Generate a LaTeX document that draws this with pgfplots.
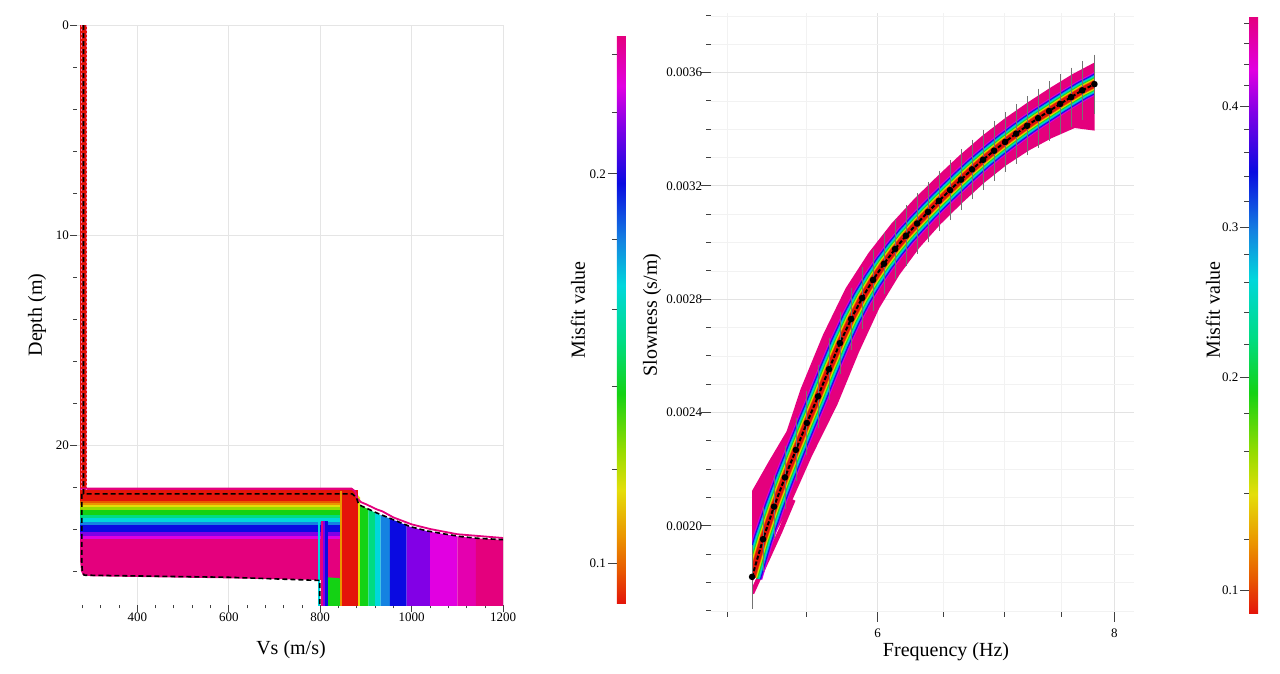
\documentclass[border=0pt]{standalone}
\usepackage{fontspec}
\setmainfont{Liberation Serif}
\usepackage{pgfplots}
\usepackage{pgfplotstable}
\pgfplotsset{compat=1.18}

\definecolor{c0}{RGB}{228,20,10}
\definecolor{c1}{RGB}{232,90,0}
\definecolor{c2}{RGB}{235,150,0}
\definecolor{c3}{RGB}{228,222,10}
\definecolor{c4}{RGB}{150,220,0}
\definecolor{c5}{RGB}{20,210,20}
\definecolor{c6}{RGB}{0,220,130}
\definecolor{c7}{RGB}{0,215,220}
\definecolor{c8}{RGB}{20,130,225}
\definecolor{c9}{RGB}{10,10,225}
\definecolor{c10}{RGB}{130,0,230}
\definecolor{c11}{RGB}{225,0,225}
\definecolor{c11b}{RGB}{228,0,175}
\definecolor{c12}{RGB}{228,0,125}

\pgfplotsset{
  colormap={misfit}{rgb255(0pt)=(228,20,10) rgb255(6pt)=(232,90,0) rgb255(12pt)=(235,150,0) rgb255(20pt)=(228,222,10) rgb255(27pt)=(150,220,0) rgb255(37pt)=(20,210,20) rgb255(46pt)=(0,220,130) rgb255(56pt)=(0,215,220) rgb255(64pt)=(20,130,225) rgb255(74pt)=(10,10,225) rgb255(84pt)=(130,0,230) rgb255(91pt)=(225,0,225) rgb255(100pt)=(228,0,125)},
  /pgf/number format/assume math mode=true,
  tick label style={font=\fontsize{6.5}{7.5}\selectfont},
  tick style={black!75, line width=0.4pt},
  colorbar shift/.style={xshift=0pt},
}
\newcommand{\lab}{\fontsize{10}{12}\selectfont}

% dispersion curve: frequency (Hz), slowness (s/m), error
\pgfplotstableread{
f s e
5.150 0.001820 0.000095
5.219 0.001953 0.000095
5.289 0.002068 0.000094
5.360 0.002171 0.000094
5.432 0.002268 0.000093
5.505 0.002363 0.000093
5.580 0.002457 0.000092
5.655 0.002553 0.000092
5.731 0.002645 0.000091
5.809 0.002730 0.000091
5.887 0.002804 0.000090
5.966 0.002868 0.000090
6.046 0.002925 0.000090
6.128 0.002977 0.000089
6.210 0.003024 0.000089
6.294 0.003067 0.000089
6.379 0.003108 0.000088
6.464 0.003147 0.000088
6.551 0.003185 0.000088
6.640 0.003222 0.000088
6.729 0.003258 0.000087
6.820 0.003292 0.000087
6.912 0.003324 0.000087
7.005 0.003355 0.000087
7.100 0.003384 0.000087
7.195 0.003412 0.000086
7.292 0.003439 0.000086
7.391 0.003464 0.000086
7.490 0.003489 0.000086
7.591 0.003513 0.000086
7.694 0.003537 0.000086
7.809 0.003559 0.000086
}\disp

% centre line of the family of computed curves
\pgfplotstableread{
f s
5.150 0.001820
5.219 0.001953
5.289 0.002068
5.360 0.002171
5.432 0.002268
5.505 0.002363
5.580 0.002457
5.655 0.002553
5.731 0.002645
5.809 0.002730
5.887 0.002804
5.966 0.002868
6.046 0.002925
6.128 0.002977
6.210 0.003024
6.294 0.003067
6.379 0.003108
6.464 0.003147
6.551 0.003185
6.640 0.003222
6.729 0.003258
6.820 0.003292
6.912 0.003324
7.005 0.003355
7.100 0.003384
7.195 0.003412
7.292 0.003439
7.391 0.003464
7.490 0.003489
7.591 0.003513
7.694 0.003537
7.809 0.003559
7.870 0.003572
}\family

\begin{document}
\begin{tikzpicture}
\useasboundingbox (0,0) rectangle (640pt,337pt);

% ================= LEFT: Vs profiles =================
\begin{axis}[
  at={(38.45pt,34.5pt)}, anchor=south west, scale only axis,
  width=213.15pt, height=290pt,
  xmin=268, xmax=1200, ymin=0, ymax=27.62, y dir=reverse,
  axis x line*=bottom, axis y line*=left, axis line style={draw=none},
  xtick={400,600,800,1000,1200}, xticklabels={400,600,800,1000,1200},
  minor xtick={280,320,360,440,480,520,560,640,680,720,760,840,880,920,960,1040,1080,1120,1160},
  ytick={0,10,20}, yticklabels={0,10,20},
  minor ytick={2,4,6,8,12,14,16,18,22,24,26},
  yticklabel style={xshift=3pt},
  xticklabel style={yshift=3pt},
  tick align=outside, major tick length=3.5pt, minor tick length=1.7pt,
  grid=major, major grid style={gray!20, line width=0.4pt},
  colormap name=misfit, point meta min=0.43381, point meta max=0.61309,
  colorbar,
  colorbar style={
    at={(parent axis.north east)}, anchor=north west, xshift=56.85pt, yshift=-5pt,
    scale only axis, width=4.5pt, height=284.5pt,
    ytick={0.44668,0.56933}, yticklabels={0.1,0.2},
    minor ytick={0.47612,0.50251,0.52656,0.54872,0.58864,0.60684},
    ytick pos=left, yticklabel pos=left,
    yticklabel style={xshift=2.5pt},
    tick align=outside, major tick length=4.5pt, minor tick length=2.5pt,
    axis line style={draw=none},
  },
]
% first layer, all models
\addplot[draw=none, fill=c0] coordinates {(275,0) (290,0) (290,22.15) (275,22.15)} -- cycle;
% background of the interface band (worst models)
\addplot[draw=none, fill=c12] coordinates {(275,22.05) (870,22.05) (870,26.45) (600,26.35) (300,26.25) (281,26.2) (277,26.0) (275,25.5)} -- cycle;
% interface depth bands, worst to best
\addplot[draw=none, fill=c11] coordinates {(275,24.32) (845.5,24.32) (845.5,24.48) (275,24.48)} -- cycle;
\addplot[draw=none, fill=c10] coordinates {(275,24.12) (845.5,24.12) (845.5,24.32) (275,24.32)} -- cycle;
\addplot[draw=none, fill=c9] coordinates {(275,23.80) (845.5,23.80) (845.5,24.12) (275,24.12)} -- cycle;
\addplot[draw=none, fill=c8] coordinates {(275,23.65) (845.5,23.65) (845.5,23.80) (275,23.80)} -- cycle;
\addplot[draw=none, fill=c7] coordinates {(275,23.50) (845.5,23.50) (845.5,23.65) (275,23.65)} -- cycle;
\addplot[draw=none, fill=c6] coordinates {(275,23.35) (845.5,23.35) (845.5,23.50) (275,23.50)} -- cycle;
\addplot[draw=none, fill=c5] coordinates {(275,23.08) (845.5,23.08) (845.5,23.35) (275,23.35)} -- cycle;
\addplot[draw=none, fill=c4] coordinates {(275,22.97) (845.5,22.97) (845.5,23.08) (275,23.08)} -- cycle;
\addplot[draw=none, fill=c3] coordinates {(275,22.85) (845.5,22.85) (845.5,22.97) (275,22.97)} -- cycle;
\addplot[draw=none, fill=c2] coordinates {(275,22.75) (845.5,22.75) (845.5,22.85) (275,22.85)} -- cycle;
\addplot[draw=none, fill=c1] coordinates {(275,22.65) (845.5,22.65) (845.5,22.75) (275,22.75)} -- cycle;
\addplot[draw=none, fill=c0] coordinates {(275,22.15) (847.5,22.15) (847.5,22.65) (275,22.65)} -- cycle;
% half-space velocities
\addplot[draw=none, fill=c7] coordinates {(796,23.6) (800,23.6) (800,27.7) (796,27.7)} -- cycle;
\addplot[draw=none, fill=c12] coordinates {(801,23.6) (806,23.6) (806,27.7) (801,27.7)} -- cycle;
\addplot[draw=none, fill=c10] coordinates {(806,23.6) (810,23.6) (810,27.7) (806,27.7)} -- cycle;
\addplot[draw=none, fill=c9] coordinates {(810,23.6) (817,23.6) (817,27.7) (810,27.7)} -- cycle;
\addplot[draw=none, fill=c5] coordinates {(817,26.3) (843,26.35) (843,27.7) (817,27.7)} -- cycle;
\addplot[draw=none, fill=c2] coordinates {(843,22.2) (847.5,22.2) (847.5,27.7) (843,27.7)} -- cycle;
\addplot[draw=none, fill=c0] coordinates {(847.5,22.15) (883,22.15) (883,27.7) (847.5,27.7)} -- cycle;
\addplot[draw=none, fill=c3] coordinates {(883,22.4) (887,22.5) (887,27.7) (883,27.7)} -- cycle;
\addplot[draw=none, fill=c5] coordinates {(887,22.86) (905,23.06) (905,27.7) (887,27.7)} -- cycle;
\addplot[draw=none, fill=c6] coordinates {(905,23.06) (920,23.22) (920,27.7) (905,27.7)} -- cycle;
\addplot[draw=none, fill=c7] coordinates {(920,23.22) (932,23.33) (932,27.7) (920,27.7)} -- cycle;
\addplot[draw=none, fill=c8] coordinates {(932,23.33) (952,23.50) (952,27.7) (932,27.7)} -- cycle;
\addplot[draw=none, fill=c9] coordinates {(952,23.50) (960,23.57) (989,23.83) (989,27.7) (952,27.7)} -- cycle;
\addplot[draw=none, fill=c10] coordinates {(989,23.83) (997,23.90) (1033,24.10) (1040,24.13) (1040,27.7) (989,27.7)} -- cycle;
\addplot[draw=none, fill=c11] coordinates {(1040,24.13) (1070,24.24) (1100,24.35) (1100,27.7) (1040,27.7)} -- cycle;
\addplot[draw=none, fill=c11b] coordinates {(1100,24.35) (1106,24.37) (1140,24.44) (1140,27.7) (1100,27.7)} -- cycle;
\addplot[draw=none, fill=c12] coordinates {(1140,24.44) (1200,24.52) (1200,27.7) (1140,27.7)} -- cycle;
% outlines
\addplot[c12, line width=0.9pt] coordinates {(276,22.07) (868,22.07) (876,22.2) (881,22.55) (889,22.72) (900,22.82) (925,23.08) (935,23.15) (960,23.45) (1000,23.78) (1040,24.0) (1100,24.25) (1200,24.43)};
\addplot[c12!55!white, line width=0.5pt, dash pattern=on 1pt off 1pt] coordinates {(277,0) (277,22.1)};
\addplot[c12!55!white, line width=0.5pt, dash pattern=on 1pt off 1pt] coordinates {(288,0) (288,22.1)};
\addplot[black, line width=0.8pt, dash pattern=on 2.5pt off 1.5pt] coordinates {(282.5,0) (282.5,22.33) (870,22.33) (879,22.5) (884,22.82) (890,22.9) (923,23.23) (960,23.56) (997,23.89) (1033,24.09) (1070,24.23) (1106,24.36) (1143,24.44) (1200,24.51)};
\addplot[black, line width=0.8pt, dash pattern=on 2.5pt off 1.5pt] coordinates {(278.5,22.33) (278.5,25.6) (280,26.05) (284,26.2) (600,26.3) (799,26.45) (799,27.62)};
\end{axis}

% ================= RIGHT: dispersion =================
% frame, grid and ticks
\begin{axis}[
  at={(355.55pt,31pt)}, anchor=south west, scale only axis,
  width=211.3pt, height=299.5pt,
  xmode=log, xmin=4.9, xmax=8.19, ymin=0.001696, ymax=0.00381,
  axis x line*=bottom, axis y line*=left, axis line style={draw=none},
  xtick={6,8}, xticklabels={6,8}, minor xtick={5,5.5,6.5,7,7.5},
  ytick={0.0020,0.0024,0.0028,0.0032,0.0036},
  minor ytick={0.0017,0.0018,0.0019,0.0021,0.0022,0.0023,0.0025,0.0026,0.0027,0.0029,0.0030,0.0031,0.0033,0.0034,0.0035,0.0037,0.0038},
  scaled y ticks=false,
  yticklabel style={/pgf/number format/.cd, fixed, fixed zerofill, precision=4, /tikz/.cd, xshift=4pt},
  tick align=outside, major tick length=5pt, minor tick length=2.5pt,
  grid=both, major grid style={gray!22, line width=0.4pt}, minor grid style={gray!10, line width=0.3pt},
  colormap name=misfit, point meta min=0.43305, point meta max=0.77795,
  colorbar,
  colorbar style={
    at={(parent axis.north east)}, anchor=north west, xshift=57.65pt, yshift=-1.5pt,
    scale only axis, width=4.5pt, height=298.85pt,
    ytick={0.44668,0.56933,0.65613,0.72566}, yticklabels={0.1,0.2,0.3,0.4},
    minor ytick={0.47612,0.50251,0.52656,0.54872,0.58864,0.60684,0.62408,0.64048,0.67112,0.68551,0.69937,0.71273,0.73815,0.75027,0.76203,0.77347},
    ytick pos=left, yticklabel pos=left,
    yticklabel style={xshift=2.7pt},
    tick align=outside, major tick length=4.5pt, minor tick length=2.5pt,
    axis line style={draw=none},
  },
]
\end{axis}

% family of computed curves, clipped to the data frequency range
\begin{axis}[
  at={(376.05pt,31pt)}, anchor=south west, scale only axis,
  width=171.2pt, height=299.5pt,
  xmode=log, xmin=5.15, xmax=7.81, ymin=0.001696, ymax=0.00381,
  hide axis,
]
\addplot[draw=none, fill=c12] coordinates {
(5.150,0.002124) (5.257,0.002229) (5.371,0.002334) (5.463,0.002483) (5.613,0.002674)
(5.770,0.002838) (5.933,0.002963) (6.101,0.003067) (6.274,0.003155) (6.447,0.003232)
(6.626,0.003307) (6.811,0.003376) (7.003,0.003438) (7.199,0.003494) (7.400,0.003546)
(7.607,0.003595) (7.809,0.003635) (7.864,0.003645)
(7.864,0.003395) (7.809,0.003395) (7.624,0.003404) (7.412,0.003368) (7.208,0.003324)
(7.013,0.003272) (6.827,0.003210) (6.650,0.003140) (6.477,0.003065) (6.315,0.002983)
(6.162,0.002887) (6.012,0.002769) (5.865,0.002613) (5.713,0.002428) (5.539,0.002247)
(5.376,0.002052) (5.268,0.001945) (5.150,0.001799)} -- cycle;
\addplot[c12, line width=2.3pt] coordinates {(5.149,0.001762) (5.328,0.001980) (5.415,0.002092)};
\addplot[c11, line width=10.5pt, line join=round] table[x=f,y=s] {\family};
\addplot[c10, line width=9.7pt, line join=round] table[x=f,y=s] {\family};
\addplot[c9, line width=9pt, line join=round] table[x=f,y=s] {\family};
\addplot[c8, line width=8.2pt, line join=round] table[x=f,y=s] {\family};
\addplot[c7, line width=7.4pt, line join=round] table[x=f,y=s] {\family};
\addplot[c6, line width=6.6pt, line join=round] table[x=f,y=s] {\family};
\addplot[c5, line width=5.8pt, line join=round] table[x=f,y=s] {\family};
\addplot[c4, line width=5.2pt, line join=round] table[x=f,y=s] {\family};
\addplot[c3, line width=4.7pt, line join=round] table[x=f,y=s] {\family};
\addplot[c2, line width=4.1pt, line join=round] table[x=f,y=s] {\family};
\addplot[c1, line width=3.6pt, line join=round] table[x=f,y=s] {\family};
\addplot[c0, line width=3.2pt, line join=round] table[x=f,y=s] {\family};
\end{axis}

% measured curve with error bars
\begin{axis}[
  at={(355.55pt,31pt)}, anchor=south west, scale only axis,
  width=211.3pt, height=299.5pt,
  xmode=log, xmin=4.9, xmax=8.19, ymin=0.001696, ymax=0.00381,
  hide axis,
]
\addplot[black, line width=1pt, dash pattern=on 2pt off 1pt, mark=*, mark size=1.1pt, mark options={solid},
  error bars/.cd, y dir=both, y explicit,
  error bar style={black!55, line width=0.4pt, solid},
  error mark options={black!55, mark size=2.6pt, line width=0.4pt, solid}]
  table[x=f, y=s, y error=e] {\disp};
\end{axis}

% axis titles
\node[rotate=90, font=\lab] at (18.5pt,179.5pt) {Depth (m)};
\node[font=\lab] at (145.5pt,12pt) {Vs (m/s)};
\node[rotate=90, font=\lab] at (289pt,182pt) {Misfit value};
\node[rotate=90, font=\lab] at (326pt,179.5pt) {Slowness (s/m)};
\node[font=\lab] at (473pt,11pt) {Frequency (Hz)};
\node[rotate=90, font=\lab] at (606.5pt,182pt) {Misfit value};
\end{tikzpicture}
\end{document}
